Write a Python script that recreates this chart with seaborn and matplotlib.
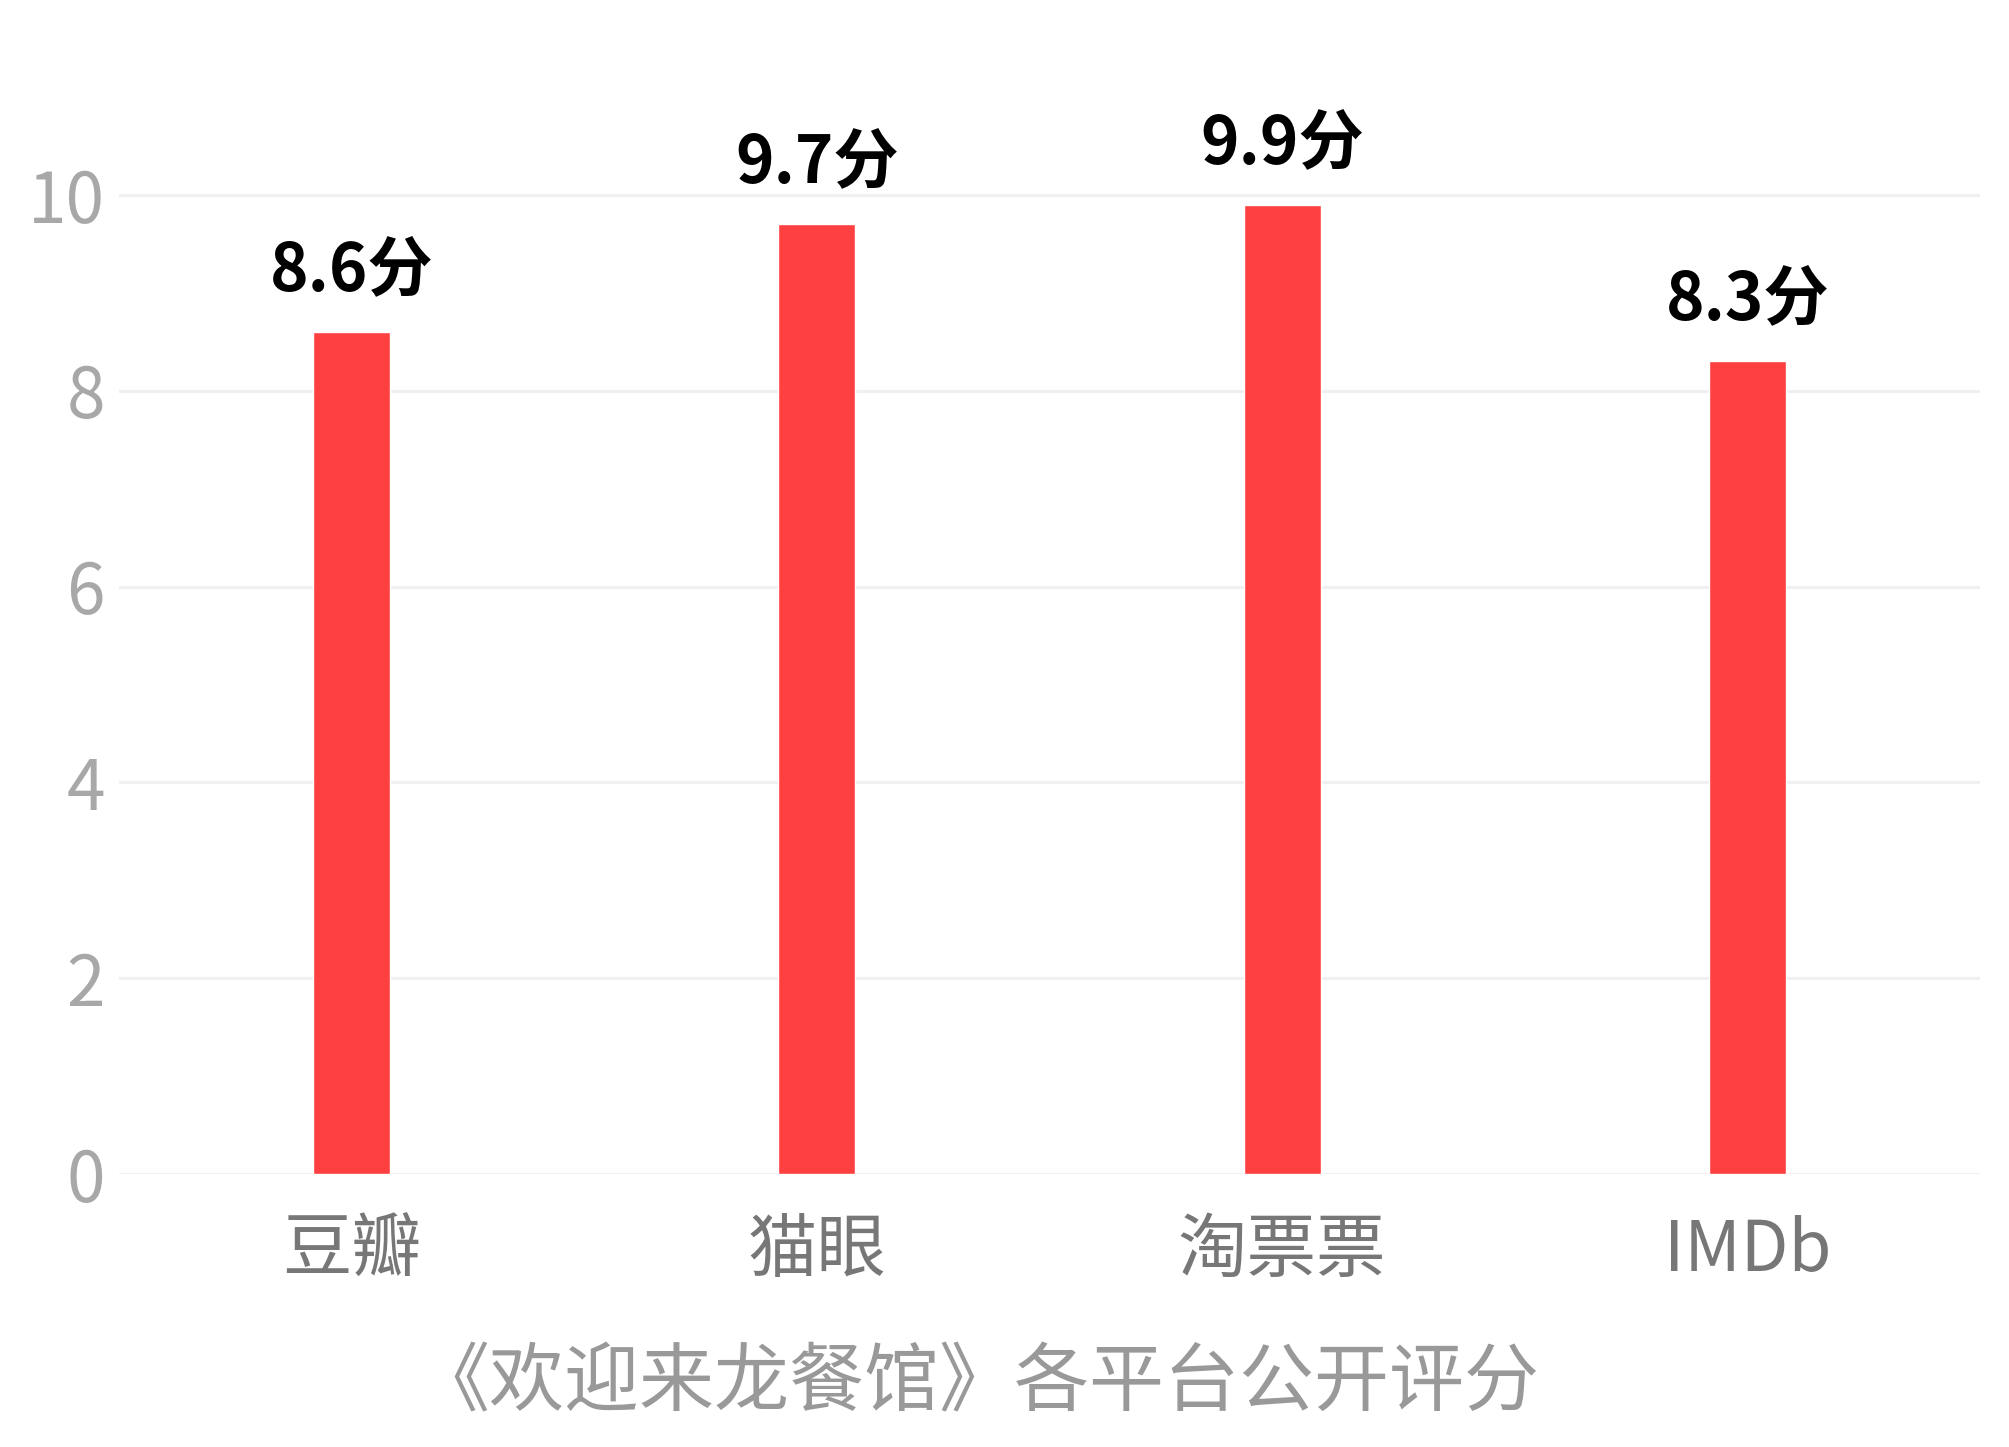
import matplotlib
matplotlib.use("Agg")
import matplotlib.pyplot as plt
import seaborn as sns
import pandas as pd

# dados do gráfico
plataformas = ['豆瓣', '猫眼', '淘票票', 'IMDb']
notas = [8.6, 9.7, 9.9, 8.3]
rotulos = ['8.6分', '9.7分', '9.9分', '8.3分']
yticks = [0, 2, 4, 6, 8, 10]
titulo = '《欢迎来龙餐馆》各平台公开评分'

df = pd.DataFrame({'plataforma': plataformas, 'nota': notas})

sns.set_theme(style="white")
plt.rcParams['font.family'] = ['Noto Sans CJK SC', 'DejaVu Sans']

fig = plt.figure(figsize=(20.09, 14.47), dpi=100)
# eixo posicionado em pixels: y=0 em 1174px, y=10 em 195px
ax = fig.add_axes([119 / 2009, 1 - 1174 / 1447, (1980 - 119) / 2009, (1174 - 48) / 1447])

sns.barplot(x='plataforma', y='nota', data=df, color='#FF4040', width=0.165,
            saturation=1, ax=ax, zorder=3)

ax.set_xlim(-0.5, 3.5)
ax.set_ylim(0, 11.5)
ax.set_yticks(yticks)
ax.grid(axis='y', color='#f0f0f0', linewidth=2.2, zorder=0)
ax.grid(axis='x', visible=False)
for s in ax.spines.values():
    s.set_visible(False)

ax.tick_params(axis='y', labelsize=50, labelcolor='#a8a8a8', length=0, pad=10)
ax.tick_params(axis='x', labelsize=50, labelcolor='#777777', length=0, pad=30)
for t in ax.get_yticklabels():
    t.set_fontweight('light')
ax.set_xlabel('')
ax.set_ylabel('')

# rótulos em cima das barras
for i, (v, txt) in enumerate(zip(notas, rotulos)):
    ax.annotate(txt, (i, v), xytext=(0, 30), textcoords='offset points',
                ha='center', va='baseline', fontsize=47, fontweight='bold',
                color='black', clip_on=False)

fig.text(977 / 2009, 1 - 1384 / 1447, titulo, ha='center', va='center',
         fontsize=54, color='#999999')

plt.savefig('out.png', dpi=100)
